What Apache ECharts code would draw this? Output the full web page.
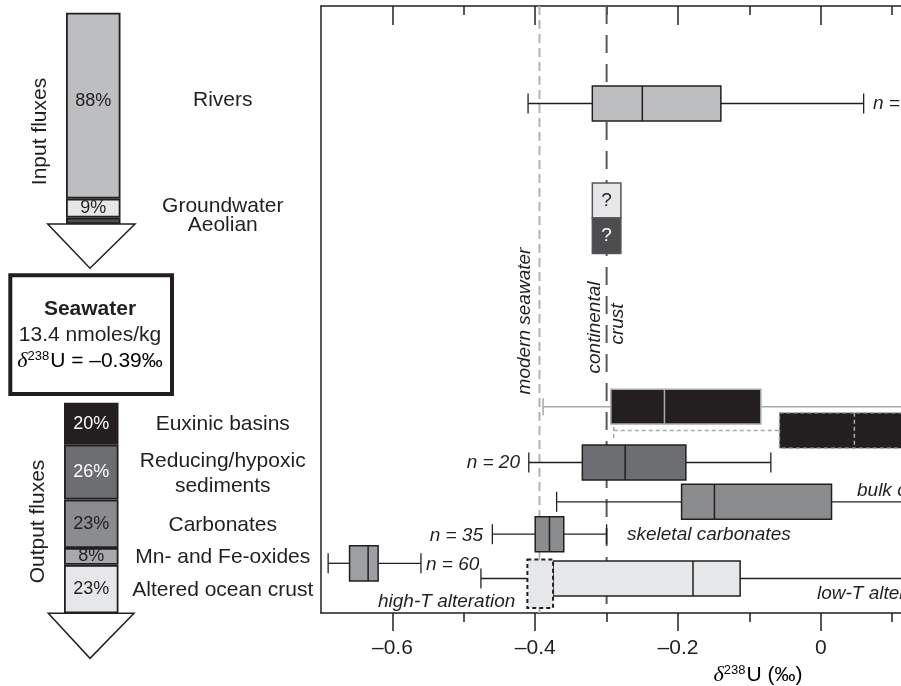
<!DOCTYPE html>
<html>
<head>
<meta charset="utf-8">
<script src="https://cdn.jsdelivr.net/npm/echarts@6/dist/echarts.min.js"></script>
<style>
html, body { margin: 0; padding: 0; background: #fff; }
#main { width: 901px; height: 686px; }
</style>
</head>
<body>
<div id="main"></div>
<script>
// flux budget (percent of total)
const inputNames = ['Rivers', 'Groundwater', 'Aeolian'];
const inputShares = [88, 9, 3];
const outputNames = ['Euxinic basins', 'Reducing/hypoxic\nsediments', 'Carbonates', 'Mn- and Fe-oxides', 'Altered ocean crust'];
const outputShares = [20, 26, 23, 8, 23];

// d238U box plots: [min, q1, median, q3, max] in permil
const rivers = [-0.41, -0.32, -0.25, -0.14, 0.06];
const continentalCrust = [-0.32, -0.28];
const euxinic = [-0.389, -0.294, -0.219, -0.084, 0.3];
const euxinicBulk = [-0.29, -0.058, 0.047, 0.25, 0.35];
const reducing = [-0.409, -0.334, -0.274, -0.189, -0.07];
const bulkCarbonates = [-0.37, -0.195, -0.149, 0.015, 0.3];
const skeletalCarbonates = [-0.46, -0.40, -0.38, -0.36, -0.30];
const mnFeOxides = [-0.69, -0.66, -0.634, -0.62, -0.56];
const lowTAlteration = [-0.476, -0.375, -0.179, -0.113, 0.4];
const highTAlteration = [-0.411, -0.375];
const modernSeawater = -0.394;
const crustValue = -0.30;

const majorTicks = [-0.6, -0.4, -0.2, 0];
const minorTicks = [-0.5, -0.3, -0.1, 0.1];

const ink = '#231f20';
const font = 'Liberation Sans, Arial, Helvetica, sans-serif';

let chart = echarts.init(document.getElementById('main'));

// box plot drawn with custom series, row centre / height given in px
function boxRender(o) {
    return function (params, api) {
        const X = v => api.coord([v, o.yc])[0];
        const yc = api.coord([0, o.yc])[1];
        const top = yc - o.h / 2, bot = yc + o.h / 2;
        const cap = o.capH || 20;
        const v = [0, 1, 2, 3, 4].map(i => api.value(i));
        const wStyle = { stroke: o.whisker || ink, lineWidth: o.wWidth || 1.3, lineDash: o.dash || null, fill: null };
        const kids = [];
        kids.push({ type: 'line', shape: { x1: X(v[0]), y1: yc, x2: X(v[1]), y2: yc }, style: wStyle });
        kids.push({ type: 'line', shape: { x1: X(v[3]), y1: yc, x2: X(v[4]), y2: yc }, style: wStyle });
        kids.push({ type: 'line', shape: { x1: X(v[0]), y1: yc - cap / 2, x2: X(v[0]), y2: yc + cap / 2 }, style: wStyle });
        kids.push({ type: 'line', shape: { x1: X(v[4]), y1: yc - cap / 2, x2: X(v[4]), y2: yc + cap / 2 }, style: wStyle });
        kids.push({ type: 'rect', shape: { x: X(v[1]), y: top, width: X(v[3]) - X(v[1]), height: o.h },
            style: { fill: o.fill, stroke: o.stroke || ink, lineWidth: 1.5, lineDash: o.dash || null } });
        kids.push({ type: 'line', shape: { x1: X(v[2]), y1: top, x2: X(v[2]), y2: bot },
            style: { stroke: o.stroke || ink, lineWidth: 1.5, lineDash: o.dash || null } });
        return { type: 'group', children: kids };
    };
}

function boxSeries(data, o) {
    return {
        type: 'custom', xAxisIndex: 0, yAxisIndex: 0, silent: true, z: 3,
        data: [data], renderItem: boxRender(o)
    };
}

function refLine(value, color, dash) {
    return {
        type: 'custom', xAxisIndex: 0, yAxisIndex: 0, silent: true, z: 1,
        data: [[value, 300]],
        renderItem: function (params, api) {
            const x = api.coord([api.value(0), 300])[0];
            const cs = params.coordSys;
            return { type: 'line', shape: { x1: x, y1: cs.y, x2: x, y2: cs.y + cs.height },
                style: { stroke: color, lineWidth: 2, lineDash: dash } };
        }
    };
}

// "?" boxes for continental crust
const crustSeries = {
    type: 'custom', xAxisIndex: 0, yAxisIndex: 0, silent: true, z: 3,
    data: [continentalCrust],
    renderItem: function (params, api) {
        const x1 = api.coord([api.value(0), 200])[0];
        const x2 = api.coord([api.value(1), 200])[0];
        const rows = [[183, 35, '#e6e7e8', ink], [218, 35.5, '#4d4d4f', '#fff']];
        return { type: 'group', children: rows.map(r => ({
            type: 'rect', shape: { x: x1, y: r[0], width: x2 - x1, height: r[1] },
            style: { fill: r[2], stroke: '#555', lineWidth: 1.5 },
            textContent: { style: { text: '?', fill: r[3], font: '19px ' + font } },
            textConfig: { position: 'inside' }
        })) };
    }
};

const highTSeries = {
    type: 'custom', xAxisIndex: 0, yAxisIndex: 0, silent: true, z: 4,
    data: [highTAlteration],
    renderItem: function (params, api) {
        const x1 = api.coord([api.value(0), 580])[0];
        const x2 = api.coord([api.value(1), 580])[0];
        return { type: 'rect', shape: { x: x1, y: 559.5, width: x2 - x1, height: 48.5 },
            style: { fill: '#e6e7e8', stroke: ink, lineWidth: 2, lineDash: [4, 3] } };
    }
};

// left flux columns
function stackBars(shares, colors, textColors, xi, yi, stack, dys) {
    return shares.map((s, i) => ({
        type: 'bar', xAxisIndex: xi, yAxisIndex: yi, stack: stack, barWidth: '100%',
        data: [s], silent: true,
        itemStyle: { color: colors[i], borderColor: ink, borderWidth: 1.8, opacity: 1 },
        label: { show: s > 5, position: 'inside', formatter: '{c}%', fontSize: 18, offset: [0, dys[i]],
            fontFamily: font, color: textColors[i] }
    }));
}

function nameSeries(shares, names, xi, yi, dx, dys) {
    let cum = 0;
    const data = shares.map((s, i) => {
        const c = cum + s / 2;
        cum += s;
        return { value: [0, c], name: names[i], label: { offset: [dx, dys[i]] } };
    });
    return {
        type: 'scatter', xAxisIndex: xi, yAxisIndex: yi, symbolSize: 0, silent: true, data: data,
        itemStyle: { opacity: 1 },
        label: { show: true, position: 'inside', formatter: '{b}', fontSize: 21, lineHeight: 25,
            fontFamily: font, color: ink, align: 'center' }
    };
}

const tickStyle = { color: ink, width: 1.5 };
function plotAxis(pos, ticks, len, inside, line, labels) {
    return {
        type: 'value', gridIndex: 0, position: pos, min: -0.7, max: 0.1123,
        splitLine: { show: false },
        axisLine: { show: line, onZero: false, lineStyle: { color: ink, width: 1.5 } },
        axisTick: { show: true, customValues: ticks, length: len, inside: inside, lineStyle: tickStyle },
        axisLabel: labels ? { show: true, customValues: ticks, margin: 25, fontSize: 21, fontFamily: font, color: ink,
            formatter: v => Math.abs(v) < 1e-9 ? '0' : '\u2013' + Math.abs(v).toFixed(1) } : { show: false }
    };
}

const deltaRich = {
    d: { fontSize: 22, fontStyle: 'italic', fontFamily: 'Liberation Serif, serif', color: ink },
    s: { fontSize: 13, fontFamily: font, color: ink, verticalAlign: 'top', padding: [0, 1, 0, 0] },
    u: { fontSize: 21, fontFamily: font, color: ink }
};

function note(text, x, y, align, rot) {
    return { type: 'text', x: x, y: y, rotation: rot || 0, z: 50, silent: true,
        style: { text: text, fill: ink, font: 'italic 19px ' + font, align: align, verticalAlign: 'middle' } };
}
function plain(text, x, y, weight) {
    return { type: 'text', x: x, y: y, z: 50, silent: true,
        style: { text: text, fill: ink, font: (weight || 'normal') + ' 21px ' + font, align: 'center', verticalAlign: 'middle' } };
}

let option = {
    animation: false,
    backgroundColor: '#fff',
    grid: [
        { left: 321, top: 6, right: 0, bottom: 73 },
        { left: 66, top: 12.7, width: 54.5, height: 211.3 },
        { left: 64, top: 402.7, width: 54.5, height: 210.6 }
    ],
    xAxis: [
        plotAxis('bottom', majorTicks, 18, false, true, true),
        plotAxis('bottom', minorTicks, 9, false, false, false),
        plotAxis('top', majorTicks, 19, true, true, false),
        plotAxis('top', minorTicks, 9, true, false, false),
        { type: 'category', gridIndex: 1, data: ['Input'], show: false },
        { type: 'category', gridIndex: 2, data: ['Output'], show: false }
    ],
    yAxis: [
        { type: 'value', gridIndex: 0, min: 6, max: 613, inverse: true, splitLine: { show: false },
            axisLine: { show: true, onZero: false, lineStyle: { color: ink, width: 1.5 } },
            axisTick: { show: false }, axisLabel: { show: false } },
        { type: 'value', gridIndex: 1, min: 0, max: 100, inverse: true, show: false },
        { type: 'value', gridIndex: 2, min: 0, max: 100, inverse: true, show: false }
    ],
    graphic: [
        // arrows under the columns
        { type: 'polygon', z: 1, shape: { points: [[47.7, 224], [135, 224], [90, 268.3]] },
            style: { fill: '#fff', stroke: ink, lineWidth: 1.5 } },
        { type: 'polygon', z: 1, shape: { points: [[48.3, 613.3], [134, 613.3], [90, 658.3]] },
            style: { fill: '#fff', stroke: ink, lineWidth: 1.5 } },
        // seawater box
        { type: 'rect', z: 1, shape: { x: 10.3, y: 275.3, width: 161.7, height: 118.7 },
            style: { fill: '#fff', stroke: ink, lineWidth: 4 } },
        plain('Seawater', 90, 309.5, 'bold'),
        plain('13.4 nmoles/kg', 90, 335),
        { type: 'text', x: 90, y: 361, z: 50, silent: true,
            style: { text: '{d|\u03b4}{s|238}{u|U = \u20130.39\u2030}', rich: deltaRich, align: 'center', verticalAlign: 'middle' } },
        { type: 'text', x: 40, y: 131.5, rotation: Math.PI / 2, z: 50, silent: true,
            style: { text: 'Input fluxes', fill: ink, font: '21px ' + font, align: 'center', verticalAlign: 'middle' } },
        { type: 'text', x: 38.5, y: 521.5, rotation: Math.PI / 2, z: 50, silent: true,
            style: { text: 'Output fluxes', fill: ink, font: '21px ' + font, align: 'center', verticalAlign: 'middle' } },
        // plot annotations
        note('n =', 873, 103.5, 'left'),
        note('n = 20', 520, 463, 'right'),
        note('n = 35', 483, 536, 'right'),
        note('n = 60', 426, 565, 'left'),
        note('bulk carbonates', 857, 491, 'left'),
        note('skeletal carbonates', 627, 535, 'left'),
        note('high-T alteration', 378, 601.5, 'left'),
        note('low-T alteration', 817, 593.5, 'left'),
        note('modern seawater', 525, 321, 'center', Math.PI / 2),
        note('continental', 595, 327.5, 'center', Math.PI / 2),
        note('crust', 618, 324, 'center', Math.PI / 2),
        { type: 'text', x: 758, y: 675, z: 50, silent: true,
            style: { text: '{d|\u03b4}{s|238}{u|U (\u2030)}', rich: deltaRich, align: 'center', verticalAlign: 'middle' } }
    ],
    series: [
        refLine(modernSeawater, '#b1b3b6', [9, 5]),
        refLine(crustValue, '#58595b', [18, 11]),
        boxSeries(euxinicBulk, { yc: 430.5, h: 35.6, fill: ink, stroke: '#a7a9ac', whisker: '#a7a9ac', dash: [4, 3], wWidth: 1.5, capH: 21 }),
        boxSeries(euxinic, { yc: 406.7, h: 34.7, fill: ink, stroke: '#a7a9ac', whisker: '#a7a9ac', wWidth: 1.5, capH: 17 }),
        boxSeries(reducing, { yc: 462.5, h: 35, fill: '#6d6e71' }),
        boxSeries(bulkCarbonates, { yc: 501.8, h: 35, fill: '#8a8c8e' }),
        boxSeries(skeletalCarbonates, { yc: 534.2, h: 35, fill: '#8a8c8e' }),
        boxSeries(mnFeOxides, { yc: 563.3, h: 35.3, fill: '#9d9fa2' }),
        boxSeries(lowTAlteration, { yc: 578.5, h: 35, fill: '#e6e7e8' }),
        highTSeries,
        boxSeries(rivers, { yc: 103.5, h: 35, fill: '#bcbec0' }),
        crustSeries
    ]
        .concat(stackBars(inputShares, ['#bcbec0', '#e6e7e8', '#4d4d4f'], [ink, ink, '#fff'], 4, 1, 'in', [-5, 0, 0]))
        .concat(stackBars(outputShares, [ink, '#6d6e71', '#8a8c8e', '#a7a9ac', '#e6e7e8'],
            ['#fff', '#fff', ink, ink, ink], 5, 2, 'out', [0, 0, 0, 0, 0]))
        .concat([
            nameSeries(inputShares, inputNames, 4, 1, 129.5, [-5, -1.5, 4]),
            nameSeries(outputShares, outputNames, 5, 2, 131.5, [0, 1.5, 1, 1, 1])
        ])
};

chart.setOption(option);
</script>
</body>
</html>
